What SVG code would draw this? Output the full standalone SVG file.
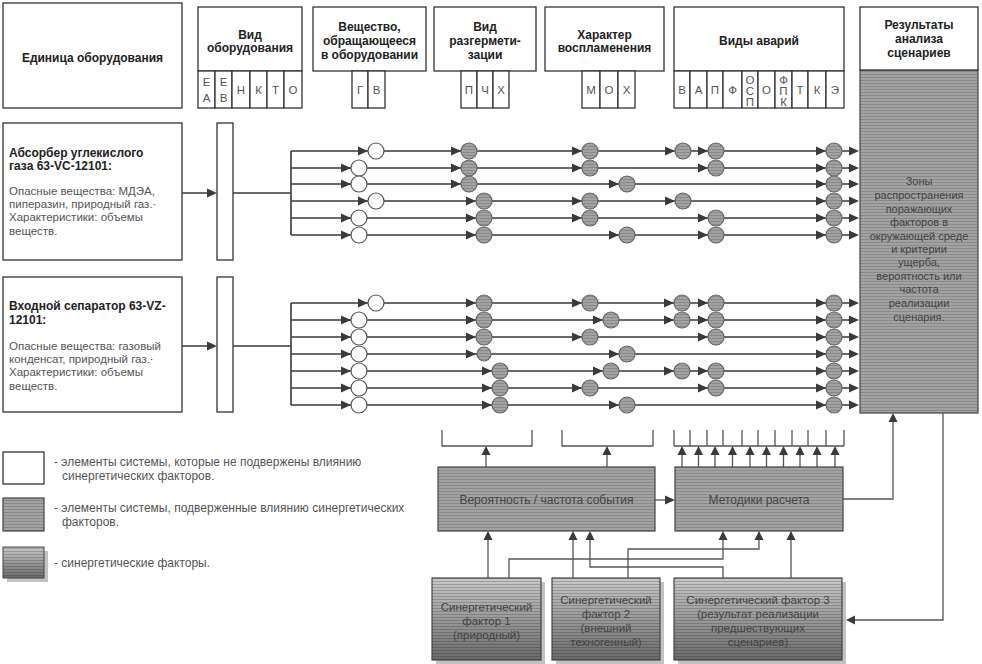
<svg xmlns="http://www.w3.org/2000/svg" width="982" height="664" viewBox="0 0 982 664">
<style>
.box{fill:#fff;stroke:#333;stroke-width:1.3}
.gbox{fill:url(#stripe);stroke:#444;stroke-width:1.2}
.ln{stroke:#3a3a3a;stroke-width:1.6;fill:none}
.cl{stroke:#555;stroke-width:1.3;fill:none}
.cw{fill:#fff;stroke:#555;stroke-width:1.2}
.cg{fill:url(#stripe);stroke:#666;stroke-width:1.2}
.t{font-family:"Liberation Sans",Arial,sans-serif;font-size:11.5px;fill:#222}
.b{font-weight:bold;font-size:12px}
.m{text-anchor:middle}
.s{fill:#555}
.g{fill:#444}
.r{font-size:11px}
.l{font-size:12px}
.ah{fill:#3a3a3a}
.sh{fill:#9a9a9a;opacity:.6}
</style>
<defs>
<pattern id="stripe" width="4" height="3" patternUnits="userSpaceOnUse"><rect width="4" height="3" fill="#a2a2a2"/><rect y="2" width="4" height="1" fill="#8a8a8a"/></pattern>
<pattern id="stripe2" width="4" height="3" patternUnits="userSpaceOnUse"><rect y="2" width="4" height="1" fill="#000" opacity=".18"/></pattern>
<linearGradient id="grad" x1="0" y1="0" x2="0" y2="1"><stop offset="0" stop-color="#c8c8c8"/><stop offset="1" stop-color="#6a6a6a"/></linearGradient>
<path id="ar" class="ah" d="M0,0 L-10,-4.5 L-10,4.5 Z"/>
<path id="au" class="ah" d="M0,0 L-4.5,9 L4.5,9 Z"/>
<path id="al" class="ah" d="M0,0 L9,-4.5 L9,4.5 Z"/>
</defs>
<rect width="982" height="664" fill="#fff"/>

<!-- header -->
<g id="h-unit"><rect class="box" x="3" y="3" width="179" height="105"/><text class="t b m" x="92.5" y="62">Единица оборудования</text></g>
<g id="h-vid"><rect class="box" x="198" y="7" width="104" height="64"/><text class="t b m" x="250" y="39">Вид</text><text class="t b m" x="250" y="52">оборудования</text>
<rect class="box" x="198" y="71" width="17" height="37"/><rect class="box" x="215" y="71" width="17" height="37"/><rect class="box" x="232" y="71" width="18" height="37"/><rect class="box" x="250" y="71" width="17" height="37"/><rect class="box" x="267" y="71" width="17" height="37"/><rect class="box" x="284" y="71" width="18" height="37"/>
<text class="t m s" x="206.5" y="86">Е</text><text class="t m s" x="206.5" y="102">А</text><text class="t m s" x="223.5" y="86">Е</text><text class="t m s" x="223.5" y="102">В</text><text class="t m s" x="241" y="94">Н</text><text class="t m s" x="258.5" y="94">К</text><text class="t m s" x="275.5" y="94">Т</text><text class="t m s" x="293" y="94">О</text></g>
<g id="h-sub"><rect class="box" x="313" y="7" width="113" height="64"/><text class="t b m" x="369.5" y="31">Вещество,</text><text class="t b m" x="369.5" y="45">обращающееся</text><text class="t b m" x="369.5" y="59">в оборудовании</text>
<rect class="box" x="352" y="71" width="16" height="37"/><rect class="box" x="368" y="71" width="17" height="37"/><text class="t m s" x="360" y="94">Г</text><text class="t m s" x="376.5" y="94">В</text></g>
<g id="h-leak"><rect class="box" x="434" y="7" width="102" height="64"/><text class="t b m" x="485" y="31">Вид</text><text class="t b m" x="485" y="45">разгермети-</text><text class="t b m" x="485" y="59">зации</text>
<rect class="box" x="461" y="71" width="16" height="37"/><rect class="box" x="477" y="71" width="16" height="37"/><rect class="box" x="493" y="71" width="16" height="37"/><text class="t m s" x="469" y="94">П</text><text class="t m s" x="485" y="94">Ч</text><text class="t m s" x="501" y="94">Х</text></g>
<g id="h-ign"><rect class="box" x="545" y="7" width="119" height="64"/><text class="t b m" x="604.5" y="39">Характер</text><text class="t b m" x="604.5" y="52">воспламенения</text>
<rect class="box" x="582" y="71" width="18" height="37"/><rect class="box" x="600" y="71" width="18" height="37"/><rect class="box" x="618" y="71" width="17" height="37"/><text class="t m s" x="591" y="94">М</text><text class="t m s" x="609" y="94">О</text><text class="t m s" x="626.5" y="94">Х</text></g>
<g id="h-acc"><rect class="box" x="674" y="7" width="170" height="64"/><text class="t b m" x="759" y="45">Виды аварий</text>
<rect class="box" x="674" y="71" width="16" height="37"/><rect class="box" x="690" y="71" width="17" height="37"/><rect class="box" x="707" y="71" width="16" height="37"/><rect class="box" x="723" y="71" width="19" height="37"/><rect class="box" x="742" y="71" width="16" height="37"/><rect class="box" x="758" y="71" width="17" height="37"/><rect class="box" x="775" y="71" width="17" height="37"/><rect class="box" x="792" y="71" width="16" height="37"/><rect class="box" x="808" y="71" width="18" height="37"/><rect class="box" x="826" y="71" width="18" height="37"/>
<text class="t m s" x="682" y="94">В</text><text class="t m s" x="698.5" y="94">А</text><text class="t m s" x="715" y="94">П</text><text class="t m s" x="732.5" y="94">Ф</text><text class="t m s" x="750" y="84">О</text><text class="t m s" x="750" y="95">С</text><text class="t m s" x="750" y="106">П</text><text class="t m s" x="766.5" y="94">О</text><text class="t m s" x="783.5" y="84">Ф</text><text class="t m s" x="783.5" y="95">П</text><text class="t m s" x="783.5" y="106">К</text><text class="t m s" x="800" y="94">Т</text><text class="t m s" x="817" y="94">К</text><text class="t m s" x="835" y="94">Э</text></g>
<g id="results"><rect class="gbox" x="860" y="70" width="118" height="343"/><rect class="box" x="860" y="7" width="118" height="63"/>
<text class="t b m" x="919" y="29">Результаты</text><text class="t b m" x="919" y="43">анализа</text><text class="t b m" x="919" y="57">сценариев</text>
<g class="t m g r"><text x="919" y="185">Зоны</text><text x="919" y="199">распространения</text><text x="919" y="213">поражающих</text><text x="919" y="226">факторов в</text><text x="919" y="240">окружающей среде</text><text x="919" y="253">и критерии</text><text x="919" y="266">ущерба,</text><text x="919" y="280">вероятность или</text><text x="919" y="293">частота</text><text x="919" y="307">реализации</text><text x="919" y="321">сценария.</text></g></g>

<!-- equipment -->
<g id="eq1"><rect class="box" x="3" y="123" width="179" height="137"/>
<text class="t b" x="9" y="157">Абсорбер углекислого</text><text class="t b" x="9" y="170">газа 63-VC-12101:</text>
<text class="t s" x="9" y="195">Опасные вещества: МДЭА,</text><text class="t s" x="9" y="208">пиперазин, природный газ.·</text><text class="t s" x="9" y="221">Характеристики: объемы</text><text class="t s" x="9" y="235">веществ.</text></g>
<g id="eq1-type"><rect class="box" x="217" y="123" width="16" height="137"/></g>
<g id="eq2"><rect class="box" x="3" y="277" width="179" height="135"/>
<text class="t b" x="9" y="310">Входной сепаратор 63-VZ-</text><text class="t b" x="9" y="324">12101:</text>
<text class="t s" x="9" y="350">Опасные вещества: газовый</text><text class="t s" x="9" y="363">конденсат, природный газ.·</text><text class="t s" x="9" y="376">Характеристики: объемы</text><text class="t s" x="9" y="390">веществ.</text></g>
<g id="eq2-type"><rect class="box" x="217" y="277" width="16" height="135"/></g>

<!-- connectors -->
<g id="connectors">
<path class="ln" d="M182,193 H209 M233,193 H291 M291,151 V235"/><use href="#ar" x="217" y="193"/>
<path class="ln" d="M182,346 H209 M233,346 H291 M291,303 V405"/><use href="#ar" x="217" y="346"/>
<path class="ln" d="M291,151 H850 M291,168 H850 M291,184 H850 M291,201 H850 M291,218 H850 M291,235 H850 M291,303 H850 M291,320 H850 M291,337 H850 M291,354 H850 M291,371 H850 M291,388 H850 M291,405 H850"/>
<g>
<use href="#ar" x="368" y="151"/><use href="#ar" x="461" y="151"/><use href="#ar" x="582" y="151"/><use href="#ar" x="675" y="151"/><use href="#ar" x="708" y="151"/><use href="#ar" x="826" y="151"/><use href="#ar" x="859" y="151"/>
<use href="#ar" x="351" y="168"/><use href="#ar" x="461" y="168"/><use href="#ar" x="582" y="168"/><use href="#ar" x="708" y="168"/><use href="#ar" x="826" y="168"/><use href="#ar" x="859" y="168"/>
<use href="#ar" x="351" y="184"/><use href="#ar" x="461" y="184"/><use href="#ar" x="619" y="184"/><use href="#ar" x="826" y="184"/><use href="#ar" x="859" y="184"/>
<use href="#ar" x="368" y="201"/><use href="#ar" x="476" y="201"/><use href="#ar" x="582" y="201"/><use href="#ar" x="675" y="201"/><use href="#ar" x="826" y="201"/><use href="#ar" x="859" y="201"/>
<use href="#ar" x="351" y="218"/><use href="#ar" x="476" y="218"/><use href="#ar" x="582" y="218"/><use href="#ar" x="708" y="218"/><use href="#ar" x="826" y="218"/><use href="#ar" x="859" y="218"/>
<use href="#ar" x="351" y="235"/><use href="#ar" x="476" y="235"/><use href="#ar" x="619" y="235"/><use href="#ar" x="708" y="235"/><use href="#ar" x="826" y="235"/><use href="#ar" x="859" y="235"/>
<use href="#ar" x="368" y="303"/><use href="#ar" x="476" y="303"/><use href="#ar" x="582" y="303"/><use href="#ar" x="674" y="303"/><use href="#ar" x="708" y="303"/><use href="#ar" x="826" y="303"/><use href="#ar" x="859" y="303"/>
<use href="#ar" x="351" y="320"/><use href="#ar" x="476" y="320"/><use href="#ar" x="603" y="320"/><use href="#ar" x="674" y="320"/><use href="#ar" x="708" y="320"/><use href="#ar" x="826" y="320"/><use href="#ar" x="859" y="320"/>
<use href="#ar" x="351" y="337"/><use href="#ar" x="476" y="337"/><use href="#ar" x="582" y="337"/><use href="#ar" x="708" y="337"/><use href="#ar" x="826" y="337"/><use href="#ar" x="859" y="337"/>
<use href="#ar" x="351" y="354"/><use href="#ar" x="476" y="354"/><use href="#ar" x="619" y="354"/><use href="#ar" x="826" y="354"/><use href="#ar" x="859" y="354"/>
<use href="#ar" x="351" y="371"/><use href="#ar" x="492" y="371"/><use href="#ar" x="603" y="371"/><use href="#ar" x="674" y="371"/><use href="#ar" x="708" y="371"/><use href="#ar" x="826" y="371"/><use href="#ar" x="859" y="371"/>
<use href="#ar" x="351" y="388"/><use href="#ar" x="492" y="388"/><use href="#ar" x="582" y="388"/><use href="#ar" x="708" y="388"/><use href="#ar" x="826" y="388"/><use href="#ar" x="859" y="388"/>
<use href="#ar" x="351" y="405"/><use href="#ar" x="492" y="405"/><use href="#ar" x="619" y="405"/><use href="#ar" x="826" y="405"/><use href="#ar" x="859" y="405"/>
</g>
<!-- brackets -->
<path class="cl" d="M442,430 V446 H532 V430 M562,430 V446 H653 V430 M674,446 H844 M674,430 V446 M690,430 V446 M707,430 V446 M723,430 V446 M742,430 V446 M758,430 V446 M775,430 V446 M792,430 V446 M808,430 V446 M826,430 V446 M844,430 V446"/>
<path class="cl" d="M486,467 V454 M607,467 V454 M682,467 V454 M698.5,467 V454 M715,467 V454 M732.5,467 V454 M750,467 V454 M766.5,467 V454 M783.5,467 V454 M800,467 V454 M817,467 V454 M835,467 V454"/>
<use href="#au" x="486" y="446"/><use href="#au" x="607" y="446"/><use href="#au" x="682" y="446"/><use href="#au" x="698.5" y="446"/><use href="#au" x="715" y="446"/><use href="#au" x="732.5" y="446"/><use href="#au" x="750" y="446"/><use href="#au" x="766.5" y="446"/><use href="#au" x="783.5" y="446"/><use href="#au" x="800" y="446"/><use href="#au" x="817" y="446"/><use href="#au" x="835" y="446"/>
<path class="cl" d="M655,500 H667"/><use href="#ar" x="675" y="500"/>
<path class="cl" d="M843,499 H893 V421"/><use href="#au" x="893" y="413"/>
<path class="cl" d="M943,413 V620 H854"/><use href="#al" x="846" y="620"/>
<path class="cl" d="M488,578 V539 M509,578 V559 H723 V539 M573,578 V539 M628,578 V549 H759 V539 M723,578 V567 H590 V539 M791,578 V539"/>
<use href="#au" x="488" y="531"/><use href="#au" x="573" y="531"/><use href="#au" x="590" y="531"/><use href="#au" x="723" y="531"/><use href="#au" x="759" y="531"/><use href="#au" x="791" y="531"/>
</g>

<!-- scenario elements -->
<g id="row1-1"><circle class="cw" cx="376" cy="151" r="8"/><circle class="cg" cx="469" cy="151" r="8"/><circle class="cg" cx="590" cy="151" r="8"/><circle class="cg" cx="683" cy="151" r="8"/><circle class="cg" cx="716" cy="151" r="8"/><circle class="cg" cx="834" cy="151" r="8"/></g>
<g id="row1-2"><circle class="cw" cx="359" cy="168" r="8"/><circle class="cg" cx="469" cy="168" r="8"/><circle class="cg" cx="590" cy="168" r="8"/><circle class="cg" cx="716" cy="168" r="8"/><circle class="cg" cx="834" cy="168" r="8"/></g>
<g id="row1-3"><circle class="cw" cx="359" cy="184" r="8"/><circle class="cg" cx="469" cy="184" r="8"/><circle class="cg" cx="627" cy="184" r="8"/><circle class="cg" cx="834" cy="184" r="8"/></g>
<g id="row1-4"><circle class="cw" cx="376" cy="201" r="8"/><circle class="cg" cx="484" cy="201" r="8"/><circle class="cg" cx="590" cy="201" r="8"/><circle class="cg" cx="683" cy="201" r="8"/><circle class="cg" cx="834" cy="201" r="8"/></g>
<g id="row1-5"><circle class="cw" cx="359" cy="218" r="8"/><circle class="cg" cx="484" cy="218" r="8"/><circle class="cg" cx="590" cy="218" r="8"/><circle class="cg" cx="716" cy="218" r="8"/><circle class="cg" cx="834" cy="218" r="8"/></g>
<g id="row1-6"><circle class="cw" cx="359" cy="235" r="8"/><circle class="cg" cx="484" cy="235" r="8"/><circle class="cg" cx="627" cy="235" r="8"/><circle class="cg" cx="716" cy="235" r="8"/><circle class="cg" cx="834" cy="235" r="8"/></g>
<g id="row2-1"><circle class="cw" cx="376" cy="303" r="8"/><circle class="cg" cx="484" cy="303" r="8"/><circle class="cg" cx="590" cy="303" r="8"/><circle class="cg" cx="682" cy="303" r="8"/><circle class="cg" cx="716" cy="303" r="8"/><circle class="cg" cx="834" cy="303" r="8"/></g>
<g id="row2-2"><circle class="cw" cx="359" cy="320" r="8"/><circle class="cg" cx="484" cy="320" r="8"/><circle class="cg" cx="611" cy="320" r="8"/><circle class="cg" cx="682" cy="320" r="8"/><circle class="cg" cx="716" cy="320" r="8"/><circle class="cg" cx="834" cy="320" r="8"/></g>
<g id="row2-3"><circle class="cw" cx="359" cy="337" r="8"/><circle class="cg" cx="484" cy="337" r="8"/><circle class="cg" cx="590" cy="337" r="8"/><circle class="cg" cx="716" cy="337" r="8"/><circle class="cg" cx="834" cy="337" r="8"/></g>
<g id="row2-4"><circle class="cw" cx="359" cy="354" r="8"/><circle class="cg" cx="484" cy="354" r="7"/><circle class="cg" cx="627" cy="354" r="8"/><circle class="cg" cx="834" cy="354" r="8"/></g>
<g id="row2-5"><circle class="cw" cx="359" cy="371" r="8"/><circle class="cg" cx="500" cy="371" r="8"/><circle class="cg" cx="611" cy="371" r="8"/><circle class="cg" cx="682" cy="371" r="8"/><circle class="cg" cx="716" cy="371" r="8"/><circle class="cg" cx="834" cy="371" r="8"/></g>
<g id="row2-6"><circle class="cw" cx="359" cy="388" r="8"/><circle class="cg" cx="500" cy="388" r="8"/><circle class="cg" cx="590" cy="388" r="8"/><circle class="cg" cx="716" cy="388" r="8"/><circle class="cg" cx="834" cy="388" r="8"/></g>
<g id="row2-7"><circle class="cw" cx="359" cy="405" r="8"/><circle class="cg" cx="500" cy="405" r="8"/><circle class="cg" cx="627" cy="405" r="8"/><circle class="cg" cx="834" cy="405" r="8"/></g>

<!-- calculation boxes -->
<g id="prob"><rect class="gbox" x="438" y="467" width="217" height="64"/><text class="t m g l" x="546.5" y="504">Вероятность / частота события</text></g>
<g id="methods"><rect class="gbox" x="675" y="467" width="168" height="64"/><text class="t m g l" x="759" y="504">Методики расчета</text></g>

<!-- synergetic factors -->
<g id="f1"><rect class="sh" x="436" y="582" width="109" height="82"/><rect x="432" y="578" width="109" height="82" fill="url(#grad)"/><rect x="432" y="578" width="109" height="82" fill="url(#stripe2)" stroke="#444" stroke-width="1.2"/>
<text class="t m g" x="486.5" y="611">Синергетический</text><text class="t m g" x="486.5" y="625">фактор 1</text><text class="t m g" x="486.5" y="639">(природный)</text></g>
<g id="f2"><rect class="sh" x="556" y="582" width="108" height="82"/><rect x="552" y="578" width="108" height="82" fill="url(#grad)"/><rect x="552" y="578" width="108" height="82" fill="url(#stripe2)" stroke="#444" stroke-width="1.2"/>
<text class="t m g" x="606" y="604">Синергетический</text><text class="t m g" x="606" y="618">фактор 2</text><text class="t m g" x="606" y="632">(внешний</text><text class="t m g" x="606" y="646">техногенный)</text></g>
<g id="f3"><rect class="sh" x="678" y="582" width="168" height="82"/><rect x="674" y="578" width="168" height="82" fill="url(#grad)"/><rect x="674" y="578" width="168" height="82" fill="url(#stripe2)" stroke="#444" stroke-width="1.2"/>
<text class="t m g" x="758" y="604">Синергетический фактор 3</text><text class="t m g" x="758" y="618">(результат реализации</text><text class="t m g" x="758" y="632">предшествующих</text><text class="t m g" x="758" y="646">сценариев)</text></g>

<!-- legend -->
<g id="legend1"><rect class="box" x="3" y="452" width="41" height="32"/><text class="t s l" x="54" y="466">- элементы системы, которые не подвержены влиянию</text><text class="t s l" x="62" y="480">синергетических факторов.</text></g>
<g id="legend2"><rect class="gbox" x="3" y="498" width="41" height="33"/><text class="t s l" x="54" y="512">- элементы системы, подверженные влиянию синергетических</text><text class="t s l" x="62" y="526">факторов.</text></g>
<g id="legend3"><rect class="sh" x="7" y="551" width="41" height="31"/><rect x="3" y="547" width="41" height="31" fill="url(#grad)"/><rect x="3" y="547" width="41" height="31" fill="url(#stripe2)" stroke="#444" stroke-width="1"/><text class="t s l" x="54" y="567">- синергетические факторы.</text></g>
</svg>
